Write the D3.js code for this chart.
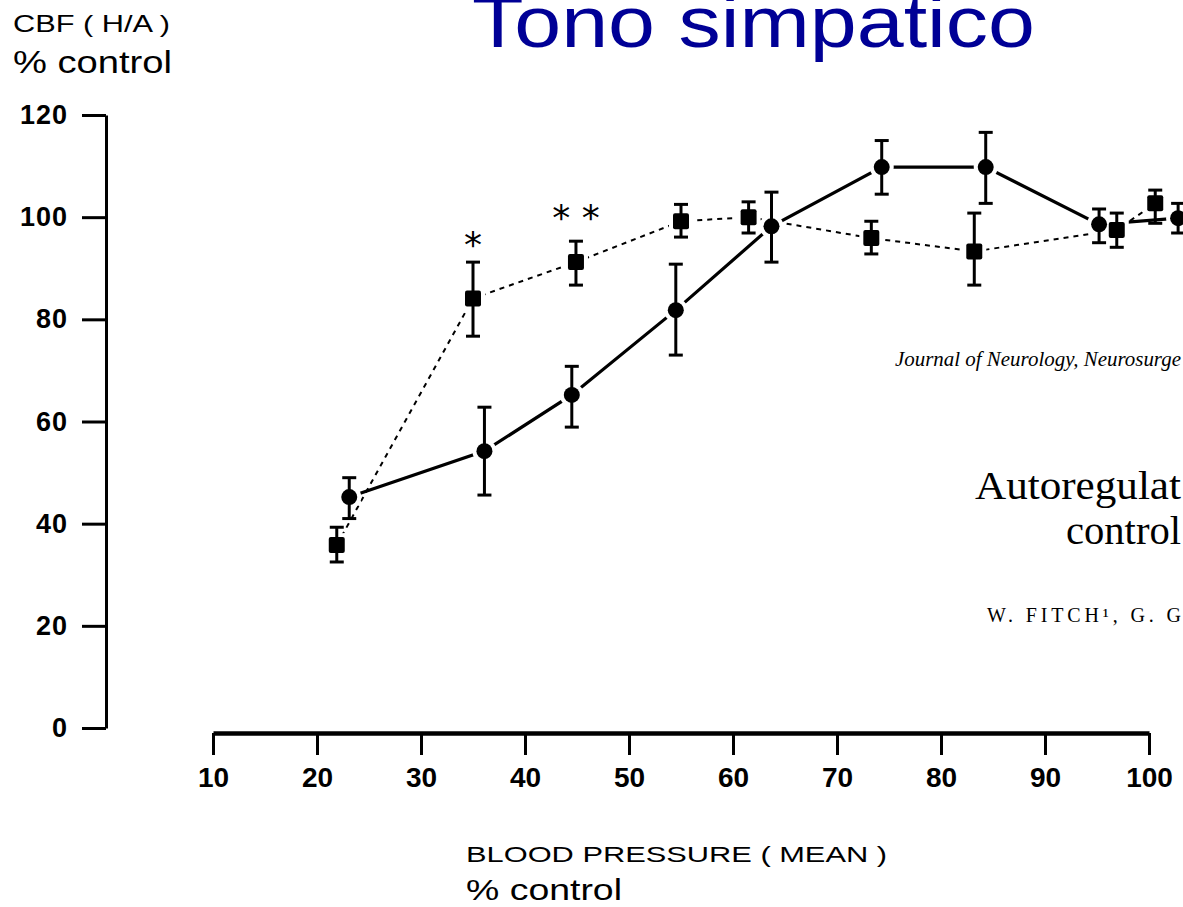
<!DOCTYPE html>
<html>
<head>
<meta charset="utf-8">
<script src="https://cdn.jsdelivr.net/npm/d3@7"></script>
<style>
  body { margin: 0; background: #fff; overflow: hidden; }
  svg { display: block; }
</style>
</head>
<body>
<div id="chart"></div>
<script>
// series (x = mean BP % control, y = CBF % control)
const circleX = [23.1, 36.1, 44.5, 54.5, 63.7, 74.3, 84.3, 95.2, 102.8];
const circleY = [45.2, 54.2, 65.2, 81.8, 98.2, 109.8, 109.8, 98.6, 99.8];
const circleHi = [49, 62.8, 70.8, 90.8, 104.9, 115, 116.6, 101.6, 102.7];
const circleLo = [41, 45.6, 58.9, 73, 91.2, 104.5, 102.7, 95, 96.9];

const squareX = [21.9, 35.0, 44.9, 55.0, 61.5, 73.3, 83.2, 96.9, 100.6];
const squareY = [35.8, 84.1, 91.2, 99.2, 100, 95.9, 93.3, 97.5, 102.7];
const squareHi = [39.3, 91.2, 95.3, 102.5, 103, 99.2, 100.8, 100.8, 105.3];
const squareLo = [32.5, 76.7, 86.7, 96.1, 96.9, 92.8, 86.7, 94.1, 98.8];

const sigX = [35.0, 44.9];
const sigY = [95.5, 100.8];
const sigLabel = ["*", "* *"];

const xTicks = [10, 20, 30, 40, 50, 60, 70, 80, 90, 100];
const yTicks = [0, 20, 40, 60, 80, 100, 120];

const width = 1183;
const height = 907;

const svg = d3.select("#chart")
  .append("svg")
  .attr("width", width)
  .attr("height", height)
  .attr("viewBox", `0 0 ${width} ${height}`);

const x = d3.scaleLinear().domain([10, 100]).range([213, 1149]);
const y = d3.scaleLinear().domain([0, 120]).range([728, 115]);

const axisFont = "'Liberation Sans', Arial, sans-serif";
const serif = "'Liberation Serif', 'Times New Roman', serif";

// title
svg.append("text")
  .attr("x", 472)
  .attr("y", 47)
  .attr("fill", "#000096")
  .attr("font-family", axisFont)
  .attr("font-size", 72)
  .attr("textLength", 563)
  .attr("lengthAdjust", "spacingAndGlyphs")
  .text("Tono simpatico");

// y axis
const yAxis = svg.append("g")
  .attr("transform", "translate(106,0)")
  .call(d3.axisLeft(y).tickValues(yTicks).tickSize(24).tickSizeOuter(0).tickPadding(14));
yAxis.select(".domain").attr("stroke", "#000").attr("stroke-width", 3);
yAxis.selectAll(".tick line").attr("stroke", "#000").attr("stroke-width", 3);
yAxis.selectAll(".tick text")
  .attr("font-family", axisFont)
  .attr("font-size", 27)
  .attr("font-weight", "bold")
  .attr("letter-spacing", 1)
  .attr("fill", "#000");

// x axis
const xAxis = svg.append("g")
  .attr("transform", "translate(0,733)")
  .call(d3.axisBottom(x).tickValues(xTicks).tickSize(22).tickSizeOuter(0).tickPadding(12));
xAxis.select(".domain").attr("stroke", "#000").attr("stroke-width", 4.5);
xAxis.selectAll(".tick line").attr("stroke", "#000").attr("stroke-width", 3);
xAxis.selectAll(".tick text")
  .attr("font-family", axisFont)
  .attr("font-size", 28)
  .attr("font-weight", "bold")
  .attr("fill", "#000");

// axis titles
svg.append("text")
  .attr("x", 13).attr("y", 32)
  .attr("font-family", axisFont).attr("font-size", 24)
  .attr("textLength", 157).attr("lengthAdjust", "spacingAndGlyphs")
  .text("CBF ( H/A )");
svg.append("text")
  .attr("x", 13).attr("y", 73)
  .attr("font-family", axisFont).attr("font-size", 32)
  .attr("textLength", 159).attr("lengthAdjust", "spacingAndGlyphs")
  .text("% control");
svg.append("text")
  .attr("x", 466).attr("y", 862)
  .attr("font-family", axisFont).attr("font-size", 22)
  .attr("textLength", 421).attr("lengthAdjust", "spacingAndGlyphs")
  .text("BLOOD PRESSURE ( MEAN )");
svg.append("text")
  .attr("x", 466).attr("y", 900)
  .attr("font-family", axisFont).attr("font-size", 30)
  .attr("textLength", 156).attr("lengthAdjust", "spacingAndGlyphs")
  .text("% control");

// article text on the right (only the part visible in the page crop)
svg.append("text")
  .attr("x", 895).attr("y", 366)
  .attr("font-family", serif).attr("font-size", 20)
  .attr("font-style", "italic")
  .attr("textLength", 286).attr("lengthAdjust", "spacingAndGlyphs")
  .text("Journal of Neurology, Neurosurge");
svg.append("text")
  .attr("x", 975).attr("y", 499)
  .attr("font-family", serif).attr("font-size", 40)
  .attr("textLength", 206).attr("lengthAdjust", "spacingAndGlyphs")
  .text("Autoregulat");
svg.append("text")
  .attr("x", 1066).attr("y", 544)
  .attr("font-family", serif).attr("font-size", 40)
  .attr("textLength", 115).attr("lengthAdjust", "spacingAndGlyphs")
  .text("control");
svg.append("text")
  .attr("x", 987).attr("y", 622)
  .attr("font-family", serif).attr("font-size", 20)
  .attr("textLength", 194).attr("lengthAdjust", "spacing")
  .text("W. FITCH¹, G. G");

const circles = circleX.map((d, i) => ({ x: d, y: circleY[i], hi: circleHi[i], lo: circleLo[i] }));
const squares = squareX.map((d, i) => ({ x: d, y: squareY[i], hi: squareHi[i], lo: squareLo[i] }));

const line = d3.line().x(d => x(d.x)).y(d => y(d.y));

svg.append("path")
  .datum(squares)
  .attr("d", line)
  .attr("fill", "none")
  .attr("stroke", "#000")
  .attr("stroke-width", 2)
  .attr("stroke-dasharray", "5,5");

svg.append("path")
  .datum(circles)
  .attr("d", line)
  .attr("fill", "none")
  .attr("stroke", "#000")
  .attr("stroke-width", 3.2);

// white halos so lines stop short of the markers
svg.selectAll(".halo-c").data(circles).join("circle")
  .attr("cx", d => x(d.x)).attr("cy", d => y(d.y)).attr("r", 12)
  .attr("fill", "#fff");
svg.selectAll(".halo-s").data(squares).join("rect")
  .attr("x", d => x(d.x) - 12).attr("y", d => y(d.y) - 12)
  .attr("width", 24).attr("height", 24)
  .attr("fill", "#fff");

// error bars
const drawErr = (data) => {
  const g = svg.append("g").attr("stroke", "#000").attr("stroke-width", 3);
  data.forEach(d => {
    g.append("line").attr("x1", x(d.x)).attr("x2", x(d.x))
      .attr("y1", y(d.hi)).attr("y2", y(d.lo));
    g.append("line").attr("x1", x(d.x) - 7).attr("x2", x(d.x) + 7)
      .attr("y1", y(d.hi)).attr("y2", y(d.hi));
    g.append("line").attr("x1", x(d.x) - 7).attr("x2", x(d.x) + 7)
      .attr("y1", y(d.lo)).attr("y2", y(d.lo));
  });
};
drawErr(circles);
drawErr(squares);

svg.append("g").selectAll("circle").data(circles).join("circle")
  .attr("cx", d => x(d.x)).attr("cy", d => y(d.y)).attr("r", 8)
  .attr("fill", "#000");
svg.append("g").selectAll("rect").data(squares).join("rect")
  .attr("x", d => x(d.x) - 8).attr("y", d => y(d.y) - 8)
  .attr("width", 16).attr("height", 16)
  .attr("rx", 2)
  .attr("fill", "#000");

// significance marks
svg.selectAll(".sig").data(sigX).join("text")
  .attr("x", d => x(d))
  .attr("y", (d, i) => y(sigY[i]) + 17)
  .attr("text-anchor", "middle")
  .attr("font-family", "'DejaVu Sans', sans-serif")
  .attr("font-size", 36)
  .attr("fill", "#000")
  .text((d, i) => sigLabel[i]);
</script>
</body>
</html>
